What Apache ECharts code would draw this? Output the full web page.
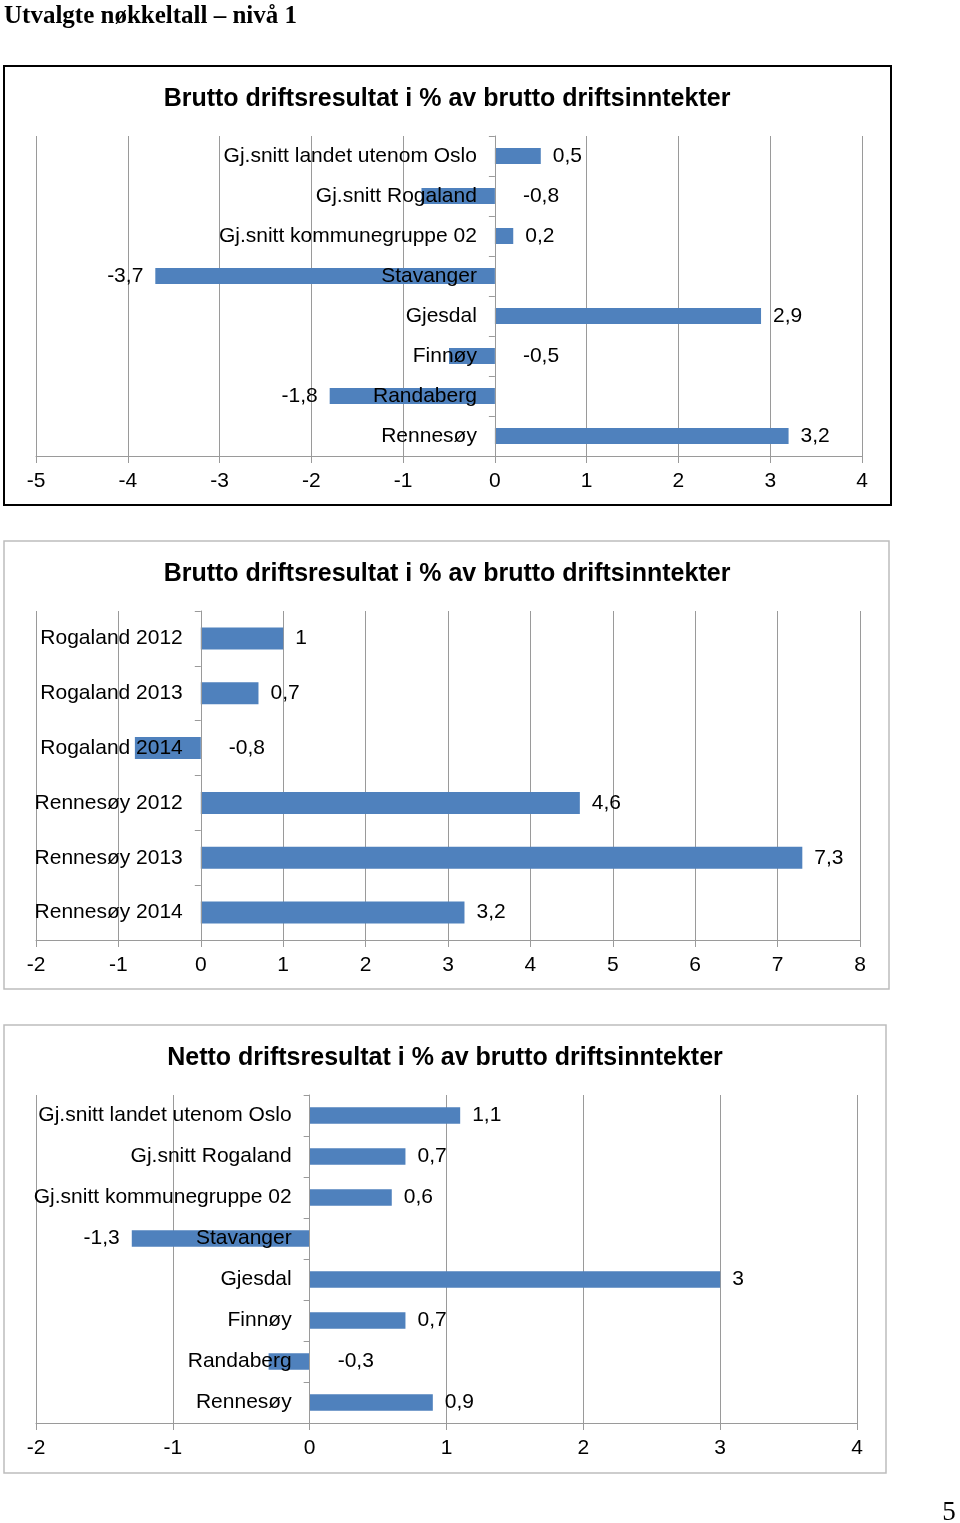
<!DOCTYPE html>
<html>
<head>
<meta charset="utf-8">
<script src="https://cdn.jsdelivr.net/npm/echarts@6/dist/echarts.min.js"></script>
<style>
html,body{margin:0;padding:0;background:#fff;}
#c{width:960px;height:1523px;}
</style>
</head>
<body>
<div id="c"></div>
<script>
const pageTitle = 'Utvalgte nøkkeltall – nivå 1';
const pageNumber = '5';

const title1 = 'Brutto driftsresultat i % av brutto driftsinntekter';
const cats1 = ['Gj.snitt landet utenom Oslo', 'Gj.snitt Rogaland', 'Gj.snitt kommunegruppe 02', 'Stavanger', 'Gjesdal', 'Finnøy', 'Randaberg', 'Rennesøy'];
const vals1 = [0.5, -0.8, 0.2, -3.7, 2.9, -0.5, -1.8, 3.2];
const ticks1 = [-5, 4];

const title2 = 'Brutto driftsresultat i % av brutto driftsinntekter';
const cats2 = ['Rogaland 2012', 'Rogaland 2013', 'Rogaland 2014', 'Rennesøy 2012', 'Rennesøy 2013', 'Rennesøy 2014'];
const vals2 = [1, 0.7, -0.8, 4.6, 7.3, 3.2];
const ticks2 = [-2, 8];

const title3 = 'Netto driftsresultat i % av brutto driftsinntekter';
const cats3 = ['Gj.snitt landet utenom Oslo', 'Gj.snitt Rogaland', 'Gj.snitt kommunegruppe 02', 'Stavanger', 'Gjesdal', 'Finnøy', 'Randaberg', 'Rennesøy'];
const vals3 = [1.1, 0.7, 0.6, -1.3, 3, 0.7, -0.3, 0.9];
const ticks3 = [-2, 4];

const FONT = "'Liberation Sans', Arial, sans-serif";
const GRIDC = '#9a9a9a';
const BAR = '#4f81bd';

const charts = [
  {title: title1, cats: cats1, vals: vals1, range: ticks1, grid: {left: 36, top: 136, width: 826, height: 320}, titleXY: [447, 97], box: {x: 4, y: 66, w: 887, h: 439, stroke: '#000', lw: 2}},
  {title: title2, cats: cats2, vals: vals2, range: ticks2, grid: {left: 36, top: 611, width: 824, height: 329}, titleXY: [447, 572], box: {x: 4, y: 541, w: 885, h: 448, stroke: '#bdbdbd', lw: 1.5}},
  {title: title3, cats: cats3, vals: vals3, range: ticks3, grid: {left: 36, top: 1095, width: 821, height: 328}, titleXY: [445, 1056], box: {x: 4, y: 1025, w: 882, h: 448, stroke: '#bdbdbd', lw: 1.5}}
];

const fmt = v => String(v).replace('.', ',');

const grids = [], xAxes = [], yAxes = [], series = [], graphics = [];

graphics.push({type: 'text', x: 4, y: 17, style: {text: pageTitle, font: "bold 25px 'Liberation Serif', 'Times New Roman', serif", fill: '#000', textAlign: 'left', align: 'left', textVerticalAlign: 'middle', verticalAlign: 'middle'}});
graphics.push({type: 'text', x: 949, y: 1513, style: {text: pageNumber, font: "27px 'Liberation Serif', 'Times New Roman', serif", fill: '#000', textAlign: 'center', align: 'center', textVerticalAlign: 'middle', verticalAlign: 'middle'}});

charts.forEach((c, i) => {
  grids.push(Object.assign({containLabel: false, outerBoundsMode: 'none'}, c.grid));
  graphics.push({type: 'rect', shape: {x: c.box.x, y: c.box.y, width: c.box.w, height: c.box.h}, style: {fill: 'none', stroke: c.box.stroke, lineWidth: c.box.lw}, z: 100});
  graphics.push({type: 'text', x: c.titleXY[0], y: c.titleXY[1] + 2, style: {text: c.title, font: 'bold 25px ' + FONT, fill: '#000', textAlign: 'center', align: 'center', textVerticalAlign: 'middle', verticalAlign: 'middle'}});
  xAxes.push({
    type: 'value', gridIndex: i, min: c.range[0], max: c.range[1], interval: 1,
    axisLine: {show: true, onZero: false, lineStyle: {color: GRIDC, width: 1}},
    axisTick: {show: true, length: 7, lineStyle: {color: GRIDC}},
    splitLine: {show: true, lineStyle: {color: GRIDC, width: 1}},
    axisLabel: {fontSize: 21, fontFamily: FONT, color: '#000', margin: 15, formatter: v => fmt(v)}
  });
  yAxes.push({
    type: 'category', gridIndex: i, data: c.cats, inverse: true, z: 10,
    position: 'left', offset: 0,
    axisLine: {show: true, onZero: false, lineStyle: {color: GRIDC, width: 1}},
    axisTick: {show: true, length: 6, lineStyle: {color: GRIDC}},
    splitLine: {show: false},
    axisLabel: {fontSize: 21, fontFamily: FONT, color: '#000', margin: 18, padding: [2, 0, 0, 0]}
  });
  series.push({
    type: 'bar', xAxisIndex: i, yAxisIndex: i, barWidth: '40%',
    itemStyle: {color: BAR},
    data: c.vals.map(v => {
      let pos, dist;
      if (v >= 0) { pos = 'right'; dist = 12; }
      else if (v > -1) { pos = 'right'; dist = 28; }
      else { pos = 'left'; dist = 12; }
      return {value: v, label: {show: true, position: pos, distance: dist}};
    }),
    label: {show: true, fontSize: 21, fontFamily: FONT, color: '#000', padding: [2, 0, 0, 0], formatter: p => fmt(p.value)},
    z: 2
  });
});

const chart = echarts.init(document.getElementById('c'), null, {renderer: 'canvas'});
chart.setOption({
  animation: false,
  backgroundColor: '#fff',
  grid: grids,
  xAxis: xAxes,
  yAxis: yAxes,
  series: series,
  graphic: graphics
});

// Move each category axis (line, ticks, labels) onto the value 0 of its value axis
const offs = charts.map((c, i) => {
  const zeroPx = chart.convertToPixel({xAxisIndex: i}, 0);
  return {offset: -(zeroPx - c.grid.left)};
});
chart.setOption({yAxis: offs});
</script>
</body>
</html>
